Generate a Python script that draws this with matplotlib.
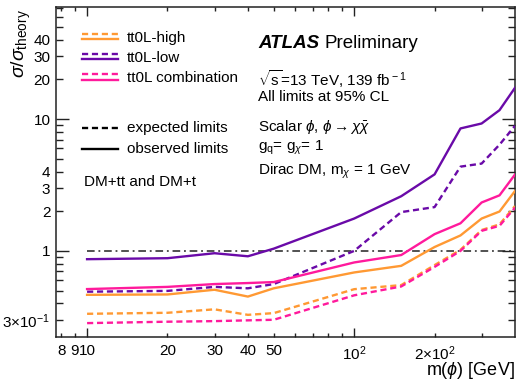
import matplotlib
matplotlib.use("Agg")
import matplotlib.pyplot as plt
from matplotlib.ticker import FixedLocator, FuncFormatter
from matplotlib.lines import Line2D

plt.rcParams['font.family'] = ['Liberation Sans', 'DejaVu Sans']
plt.rcParams['mathtext.fontset'] = 'custom'
plt.rcParams['mathtext.rm'] = 'Liberation Sans'
plt.rcParams['mathtext.it'] = 'Liberation Sans:italic'
plt.rcParams['mathtext.bf'] = 'Liberation Sans:bold'

# Mediator masses [GeV]
mass = [10, 20, 30, 40, 50, 100, 150, 200, 250, 300, 350, 400]

# Upper limits on sigma / sigma_theory
high_obs = [0.464, 0.467, 0.507, 0.45, 0.52, 0.686, 0.77, 1.07, 1.31, 1.76, 1.99, 2.85]
high_exp = [0.333, 0.339, 0.36, 0.327, 0.337, 0.512, 0.55, 0.78, 1.02, 1.44, 1.59, 2.19]
low_obs = [0.865, 0.88, 0.96, 0.91, 1.04, 1.76, 2.6, 3.81, 8.5, 9.27, 11.7, 17.3]
low_exp = [0.49, 0.497, 0.533, 0.52, 0.56, 1.0, 1.97, 2.15, 4.36, 4.6, 6.4, 8.9]
comb_obs = [0.513, 0.533, 0.56, 0.57, 0.58, 0.817, 0.93, 1.34, 1.62, 2.33, 2.64, 3.8]
comb_exp = [0.283, 0.29, 0.293, 0.297, 0.30, 0.46, 0.537, 0.756, 1.0, 1.42, 1.55, 2.13]

series_names = ["tt0L-high", "tt0L-low", "tt0L combination"]
series_colors = ["#ff9933", "#6a0aa8", "#ff1a9c"]

x_labels = {8: "8", 9: "9", 10: "10", 20: "20", 30: "30", 40: "40", 50: "50",
            100: r"10$^{2}$", 200: r"2$\times$10$^{2}$"}
y_labels = {0.3: r"3$\times$10$^{-1}$", 1: "1", 2: "2", 3: "3", 4: "4",
            10: "10", 20: "20", 30: "30", 40: "40"}

W, H = 517.0, 381.0
fig = plt.figure(figsize=(W / 100, H / 100), dpi=100)
ax = fig.add_axes([56 / W, 1 - 337 / H, 459 / W, 330 / H])
ax.set_xscale('log')
ax.set_yscale('log')
ax.set_xlim(7.65, 400)
ax.set_ylim(0.222, 71)

lw = 1.7
dash = (0, (2.6, 1.6))
obs_sets = [high_obs, low_obs, comb_obs]
exp_sets = [high_exp, low_exp, comb_exp]
for obs, exp, col in zip(obs_sets, exp_sets, series_colors):
    ax.plot(mass, exp, color=col, lw=lw, ls=dash, zorder=3)
    ax.plot(mass, obs, color=col, lw=lw, ls='-', zorder=3)

ax.plot([10, 400], [1, 1], color='#222222', lw=1.1, ls=(0, (5, 2.5, 1.2, 2.5)), zorder=2)

# ticks
xmaj = [10, 100]
xmin = [8, 9, 20, 30, 40, 50, 60, 70, 80, 90, 200, 300]
ymaj = [1, 10]
ymin = [0.3, 0.4, 0.5, 0.6, 0.7, 0.8, 0.9, 2, 3, 4, 5, 6, 7, 8, 9,
        20, 30, 40, 50, 60, 70]
ax.xaxis.set_major_locator(FixedLocator(xmaj))
ax.xaxis.set_minor_locator(FixedLocator(xmin))
ax.yaxis.set_major_locator(FixedLocator(ymaj))
ax.yaxis.set_minor_locator(FixedLocator(ymin))

def lookup(table):
    def f(v, pos):
        for k, s in table.items():
            if abs(v - k) / k < 1e-6:
                return s
        return ""
    return FuncFormatter(f)

ax.xaxis.set_major_formatter(lookup(x_labels))
ax.xaxis.set_minor_formatter(lookup(x_labels))
ax.yaxis.set_major_formatter(lookup(y_labels))
ax.yaxis.set_minor_formatter(lookup(y_labels))

ax.tick_params(axis='both', which='both', direction='in', top=True, right=True,
               labelsize=11, width=1.0, color='#222222')
ax.tick_params(axis='x', which='major', length=6.5, pad=5)
ax.tick_params(axis='x', which='minor', length=3, pad=5)
ax.tick_params(axis='y', which='major', length=9.5, pad=4)
ax.tick_params(axis='y', which='minor', length=5, pad=4)
for sp in ax.spines.values():
    sp.set_linewidth(1.1)
    sp.set_color('#222222')

def fy(py):
    return 1 - py / H

# axis titles
fig.text(515 / W, fy(370.5), r"m($\phi$) [GeV]", fontsize=13, ha='right', va='center')
fig.text(21 / W, fy(9), r"$\sigma$/$\sigma_{\rm theory}$", fontsize=14,
         rotation=90, ha='center', va='top')

# legend: expected (dashed) above observed (solid) for each channel
trans = fig.transFigure
x0, x1 = 82 / W, 118 / W
leg_rows = [(34, 38.5, 38), (53.5, 59.3, 57.5), (73.5, 80, 78.5)]
for (yd, ys, yt), col, name in zip(leg_rows, series_colors, series_names):
    fig.add_artist(Line2D([x0, x1], [fy(yd)] * 2, transform=trans,
                          color=col, lw=lw, ls=dash))
    fig.add_artist(Line2D([x0, x1], [fy(ys)] * 2, transform=trans,
                          color=col, lw=lw, ls='-'))
    fig.text(127 / W, fy(yt), name, fontsize=11, va='center', ha='left')

fig.add_artist(Line2D([x0, x1], [fy(128)] * 2, transform=trans,
                      color='black', lw=lw, ls=dash))
fig.add_artist(Line2D([x0, x1], [fy(149)] * 2, transform=trans,
                      color='black', lw=lw, ls='-'))
fig.text(127 / W, fy(128), "expected limits", fontsize=11, va='center')
fig.text(127 / W, fy(149), "observed limits", fontsize=11, va='center')
fig.text(84 / W, fy(182), "DM+tt and DM+t", fontsize=11, va='center')

# annotation block
tx = 258 / W
atl = fig.text(tx, fy(43), "ATLAS", fontsize=13.5, fontweight='bold',
               fontstyle='italic', va='center')
fig.canvas.draw()
bb = atl.get_window_extent()
fig.text((bb.x1 + 5) / W, fy(43), "Preliminary", fontsize=13.5, va='center')
fig.text(tx, fy(79), r"$\sqrt{\rm s}$=13 TeV, 139 fb$^{\rm -1}$",
         fontsize=11, va='center')
fig.text(tx, fy(97), "All limits at 95% CL", fontsize=11, va='center')
fig.text(tx, fy(127), r"Scalar $\phi$, $\phi\rightarrow\chi\bar{\chi}$",
         fontsize=11, va='center')
fig.text(tx, fy(148), r"g$_{\rm q}$= g$_{\chi}$= 1", fontsize=11, va='center')
fig.text(tx, fy(171), r"Dirac DM, m$_{\chi}$ = 1 GeV", fontsize=11, va='center')

fig.savefig("out.png", dpi=100)
